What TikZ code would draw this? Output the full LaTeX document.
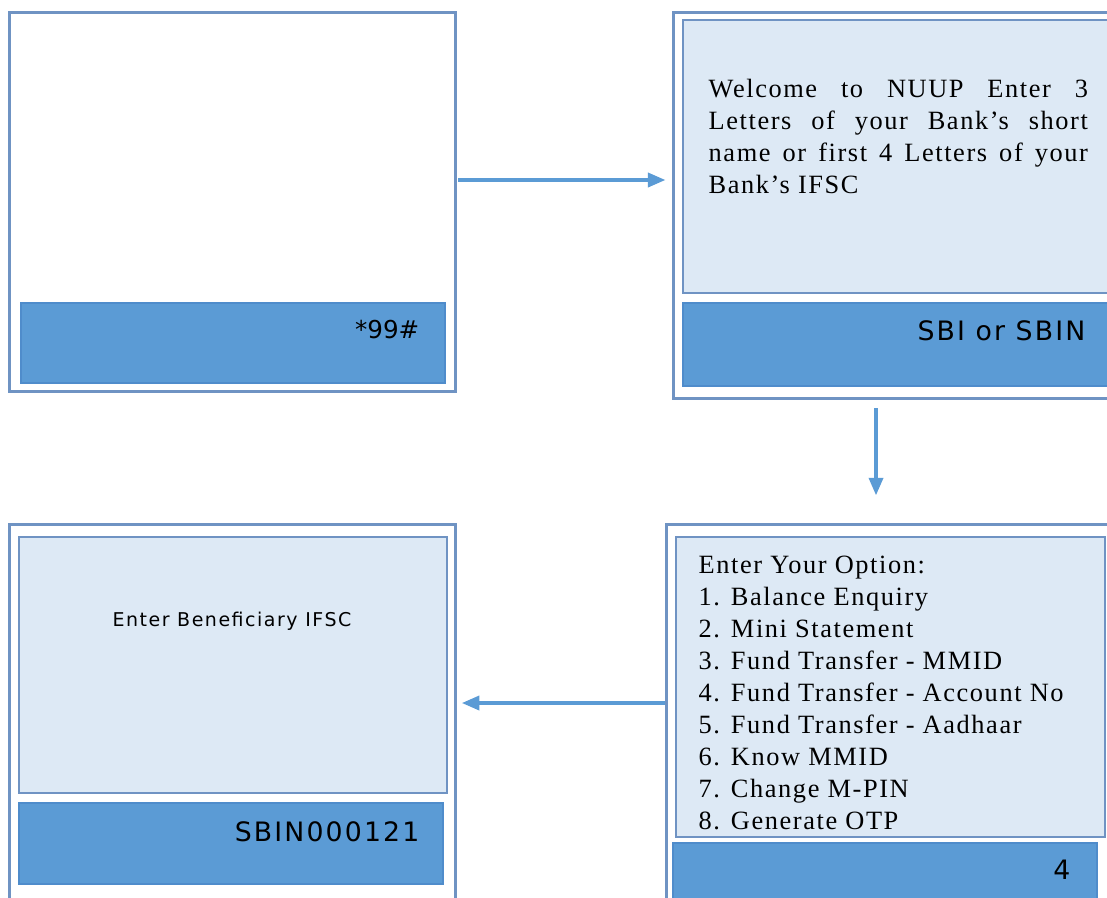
\documentclass[tikz,border=0pt]{standalone}
\usepackage{fontspec}
\setmainfont{Liberation Serif}
\newfontfamily\scrroman[LetterSpace=6,Ligatures=TeX]{Liberation Serif}
\newfontfamily\scrsans{DejaVu Sans}
\newfontfamily\scrwide[LetterSpace=8]{DejaVu Sans}
\usetikzlibrary{arrows.meta}
\definecolor{frame}{HTML}{6F93C3}
\definecolor{pale}{HTML}{DDE9F5}
\definecolor{keyblue}{HTML}{5B9BD5}
\definecolor{keyline}{HTML}{4F8CCB}
\newcommand{\scrserif}{\scrroman\fontsize{7.5}{9.1}\selectfont}
\newcommand{\scrkey}{\scrwide\fontsize{7.6}{8.5}\selectfont}
\begin{document}
\begin{tikzpicture}[x=0.01cm,y=-0.01cm,
  screen/.style={rectangle,draw=frame,line width=0.8pt,fill=white,inner sep=0pt},
  panel/.style={rectangle,draw=frame,line width=0.7pt,fill=pale,inner sep=0pt},
  keybar/.style={rectangle,draw=keyline,line width=0.5pt,fill=keyblue,inner sep=0pt},
  keytext/.style={anchor=east,inner sep=0pt,font=\scrkey},
  flow/.style={-{Triangle[length=5pt,width=4pt]},draw=keyblue,line width=1pt}]
\clip (0,0) rectangle (1107,897);

% screen 1: dial
\node[screen,minimum width=4.45cm,minimum height=3.78cm] (s1) at (232.5,202){};
\node[keybar,minimum width=4.24cm,minimum height=0.80cm] (b1) at (233,343){};
\node[anchor=east,inner sep=0pt,font=\scrsans\fontsize{7}{8}\selectfont] (k1) at (420,330) {*99\#};

% screen 2: bank
\node[screen,minimum width=4.41cm,minimum height=3.85cm] (s2) at (894.5,205.5){};
\node[panel,minimum width=4.34cm,minimum height=2.73cm] (p2) at (900,156.5){};
\node[keybar,minimum width=4.34cm,minimum height=0.83cm] (b2) at (900,344.5){};
\node[anchor=north west,text width=3.79cm,align=justify,inner sep=0pt,font=\scrserif] (m2) at (708,78)
  {\hyphenpenalty=10000 \hbadness=10000 \hfuzz=5pt Welcome to NUUP Enter 3\linebreak Letters of your Bank’s short\linebreak name or first 4 Letters of your\linebreak Bank’s IFSC};
\node[keytext] (k2) at (1086,331) {SBI or SBIN};

% screen 4: menu
\node[screen,minimum width=4.48cm,minimum height=3.80cm] (s4) at (891,715){};
\node[panel,minimum width=4.29cm,minimum height=3.00cm] (p4) at (890.5,687){};
\node[keybar,minimum width=4.24cm,minimum height=0.70cm] (b4) at (885,878){};
\node[anchor=north west,align=left,inner sep=0pt,font=\scrserif] (m4) at (698,555)
  {Enter Your Option:\\
   1. Balance Enquiry\\
   2. Mini Statement\\
   3. Fund Transfer - MMID\\
   4. Fund Transfer - Account No\\
   5. Fund Transfer - Aadhaar\\
   6. Know MMID\\
   7. Change M-PIN\\
   8. Generate OTP};
\node[keytext] (k4) at (1071,870) {4};

% screen 3: ifsc
\node[screen,minimum width=4.45cm,minimum height=3.80cm] (s3) at (232.5,715){};
\node[panel,minimum width=4.28cm,minimum height=2.56cm] (p3) at (233,665){};
\node[keybar,minimum width=4.24cm,minimum height=0.81cm] (b3) at (231,843.5){};
\node[inner sep=0pt,font=\scrwide\fontsize{5.4}{7}\selectfont] (m3) at (232,621) {Enter Beneficiary IFSC};
\node[keytext] (k3) at (420,832) {SBIN000121};

\draw[flow,shorten <=0.5pt,shorten >=2pt] (s1.east |- 0,180) -- (s2.west |- 0,180);
\draw[flow,shorten <=2.5pt,shorten >=8pt] (s2.south -| 876,0) -- (s4.north -| 876,0);
\draw[flow,shorten >=1.5pt] (s4.west |- 0,703) -- (s3.east |- 0,703);

\end{tikzpicture}
\end{document}
